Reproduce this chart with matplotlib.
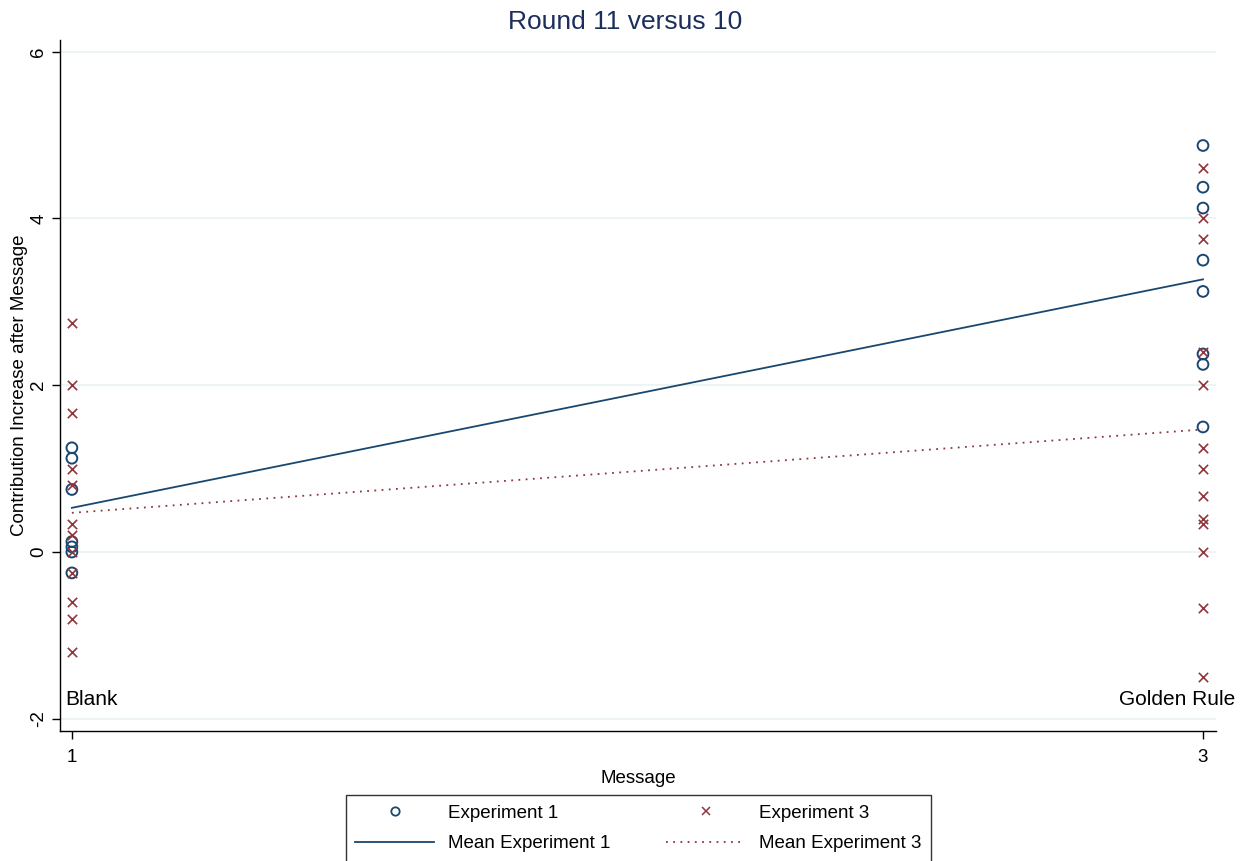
import matplotlib
matplotlib.use("Agg")
import matplotlib.pyplot as plt
from matplotlib.lines import Line2D

plt.rcParams['font.family'] = ['Liberation Sans', 'DejaVu Sans']

# Message treatments (1 = Blank, 3 = Golden Rule)
message_codes = [1, 3]
message_names = ["Blank", "Golden Rule"]

# Contribution increase, round 11 vs 10, per group
exp1_blank = [1.25, 1.125, 0.75, 0.125, 0.0625, 0.0, -0.25]
exp1_golden = [4.875, 4.375, 4.125, 3.5, 3.125, 2.375, 2.25, 1.5]
exp3_blank = [2.75, 2.0, 1.667, 1.0, 0.8, 0.333, 0.2, 0.0, -0.25, -0.6, -0.8, -1.2]
exp3_golden = [4.6, 4.0, 3.75, 2.4, 2.0, 1.25, 1.0, 0.667, 0.4, 0.333, 0.0, -0.667, -1.5]

# Means by message
mean_exp1 = [0.53, 3.27]
mean_exp3 = [0.47, 1.47]

yticks = [-2, 0, 2, 4, 6]

navy = "#1a476f"
maroon = "#90353b"
grid_col = "#eaf2f3"

fig = plt.figure(figsize=(12.51, 8.61), dpi=100)
ax = fig.add_axes([60 / 1251, 1 - 731 / 861, (1216 - 60) / 1251, (731 - 40) / 861])

ax.plot(message_codes, mean_exp1, color=navy, lw=1.3, zorder=2)
ax.plot(message_codes, mean_exp3, color=maroon, lw=1.3, ls=(0, (1, 3)), zorder=2)

ax.scatter([message_codes[0]] * len(exp1_blank), exp1_blank, s=60, facecolors='none',
           edgecolors=navy, linewidths=1.4, zorder=3)
ax.scatter([message_codes[1]] * len(exp1_golden), exp1_golden, s=60, facecolors='none',
           edgecolors=navy, linewidths=1.4, zorder=3)
ax.scatter([message_codes[0]] * len(exp3_blank), exp3_blank, s=45, marker='x',
           color=maroon, linewidths=1.2, zorder=3)
ax.scatter([message_codes[1]] * len(exp3_golden), exp3_golden, s=45, marker='x',
           color=maroon, linewidths=1.2, zorder=3)

ax.set_xlim(0.979, 3.023)
ax.set_ylim(-2.146, 6.14)
ax.set_xticks(message_codes)
ax.set_xticklabels([str(c) for c in message_codes], fontsize=13.5)
ax.set_yticks(yticks)
ax.set_yticklabels([str(v) for v in yticks], fontsize=13.5, rotation=90, va='center')
ax.tick_params(direction='out', length=6, width=1, colors='black')
ax.tick_params(axis='x', pad=7)
ax.tick_params(axis='y', pad=3)
ax.yaxis.grid(True, color=grid_col, lw=1.2)
ax.set_axisbelow(True)
for side in ['top', 'right']:
    ax.spines[side].set_visible(False)
for side in ['left', 'bottom']:
    ax.spines[side].set_linewidth(1.0)

ax.set_xlabel("Message", fontsize=13.5, labelpad=3)
ax.set_ylabel("Contribution Increase after Message", fontsize=13.5, labelpad=2)
fig.text(0.5, 1 - 22 / 861, "Round 11 versus 10", ha='center', va='center',
         fontsize=19, color="#1c2e5c")

ax.text(0.989, -1.77, message_names[0], ha='left', va='center', fontsize=15, clip_on=False)
ax.text(3.057, -1.77, message_names[1], ha='right', va='center', fontsize=15, clip_on=False)

handles = [
    Line2D([], [], ls='none', marker='o', mfc='none', mec=navy, ms=6, mew=1.3),
    Line2D([], [], color=navy, lw=1.3),
    Line2D([], [], ls='none', marker='x', color=maroon, ms=6, mew=1.1),
    Line2D([], [], color=maroon, lw=1.3, ls=(0, (1, 3))),
]
labels = ["Experiment 1", "Mean Experiment 1", "Experiment 3", "Mean Experiment 3"]
leg = fig.legend(handles, labels, ncol=2, loc='upper left',
                 bbox_to_anchor=(346 / 1251, 1 - 795 / 861, 585 / 1251, 0.0),
                 mode='expand', fontsize=13.5, frameon=True, fancybox=False,
                 edgecolor='black', handlelength=4.2, handletextpad=0.75,
                 borderpad=0.5, labelspacing=0.72, borderaxespad=0)
leg.get_frame().set_linewidth(1.0)

fig.savefig("out.png", dpi=100, facecolor='white')
